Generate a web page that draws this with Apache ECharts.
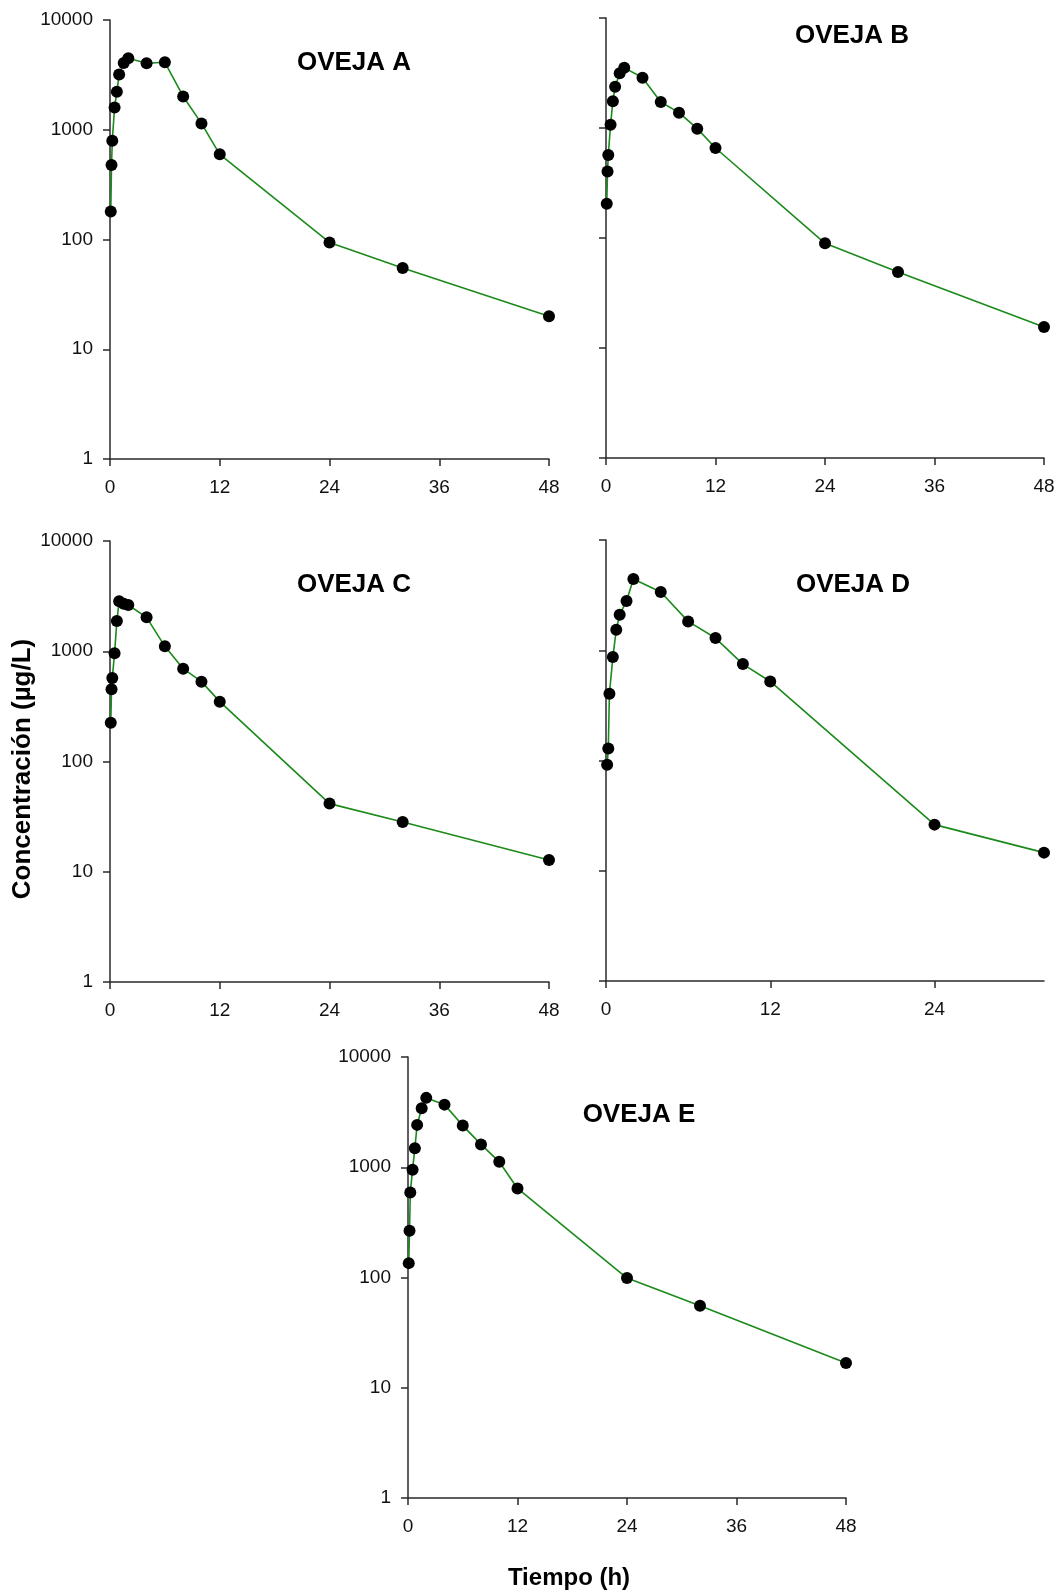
<!DOCTYPE html>
<html>
<head>
<meta charset="utf-8">
<script src="https://cdn.jsdelivr.net/npm/echarts@6/dist/echarts.min.js"></script>
<style>
  html, body { margin: 0; padding: 0; background: #fff; }
  #chart { width: 1060px; height: 1596px; }
</style>
</head>
<body>
<div id="chart"></div>
<script>
// ---- data ----
const times = [0.083, 0.167, 0.25, 0.5, 0.75, 1, 1.5, 2, 4, 6, 8, 10, 12, 24, 32, 48];
const timesD = [0.083, 0.167, 0.25, 0.5, 0.75, 1, 1.5, 2, 4, 6, 8, 10, 12, 24, 32];
const ovejaA = [180, 477, 794, 1596, 2215, 3185, 4066, 4485, 4040, 4120, 2010, 1142, 597, 94, 55, 20];
const ovejaB = [205, 403, 568, 1072, 1748, 2376, 3140, 3535, 2868, 1723, 1378, 986, 658, 89.5, 49, 15.5];
const ovejaC = [225, 452, 572, 957, 1881, 2836, 2700, 2627, 2031, 1108, 695, 530, 349, 41.5, 28.3, 12.8];
const ovejaD = [91.4, 128.5, 403, 867, 1535, 2100, 2795, 4425, 3373, 1827, 1290, 749, 521, 26.2, 14.6];
const ovejaE = [135, 265, 591, 951, 1485, 2423, 3433, 4259, 3698, 2387, 1611, 1120, 642, 98.9, 55.4, 16.8];
const titles = ['OVEJA A', 'OVEJA B', 'OVEJA C', 'OVEJA D', 'OVEJA E'];
const xTicks = [0, 12, 24, 36, 48];
const xTicksD = [0, 12, 24];
const yTicks = [1, 10, 100, 1000, 10000];
const yLabel = 'Concentración (µg/L)';
const xLabel = 'Tiempo (h)';

// ---- layout ----
const FONT = 'Liberation Sans, Arial, Helvetica, sans-serif';
const grids = [
  { left: 110, top: 20, width: 439, height: 439 },
  { left: 606, top: 18, width: 438, height: 440 },
  { left: 110, top: 541, width: 439, height: 441 },
  { left: 606, top: 540, width: 438, height: 441 },
  { left: 408, top: 1057, width: 438, height: 441 }
];
const titlePos = [[354, 63], [852, 36], [354, 585], [853, 585], [639, 1115]];
const panels = [
  { t: times, v: ovejaA, xmax: 48, xt: xTicks },
  { t: times, v: ovejaB, xmax: 48, xt: xTicks },
  { t: times, v: ovejaC, xmax: 48, xt: xTicks },
  { t: timesD, v: ovejaD, xmax: 32, xt: xTicksD },
  { t: times, v: ovejaE, xmax: 48, xt: xTicks }
];

const axisColor = '#2a2a2a';
const lineStyle = { color: axisColor, width: 1.5 };

const option = {
  animation: false,
  backgroundColor: '#fff',
  grid: grids.map(g => Object.assign({ containLabel: false }, g)),
  xAxis: panels.map((p, i) => ({
    gridIndex: i,
    type: 'value',
    min: 0,
    max: p.xmax,
    interval: 12,
    axisLine: { show: true, onZero: false, lineStyle: lineStyle },
    axisTick: { show: true, length: 7, lineStyle: lineStyle, customValues: p.xt },
    axisLabel: {
      show: true, margin: 19, color: '#111', fontSize: 19, fontFamily: FONT,
      customValues: p.xt,
      formatter: v => String(v)
    },
    splitLine: { show: false }
  })),
  yAxis: panels.map((p, i) => ({
    gridIndex: i,
    type: 'log',
    logBase: 10,
    min: 1,
    max: 10000,
    axisLine: { show: true, onZero: false, lineStyle: lineStyle },
    axisTick: { show: true, length: 7, lineStyle: lineStyle, customValues: yTicks },
    axisLabel: {
      show: i % 2 === 0 || i === 4,
      margin: 17, color: '#111', fontSize: 19, fontFamily: FONT,
      customValues: yTicks,
      formatter: v => String(Math.round(v))
    },
    splitLine: { show: false }
  })),
  series: panels.map((p, i) => ({
    type: 'line',
    xAxisIndex: i,
    yAxisIndex: i,
    data: p.t.map((t, k) => [t, p.v[k]]),
    symbol: 'circle',
    symbolSize: 12,
    showAllSymbol: true,
    lineStyle: { color: '#1b8a1b', width: 1.6 },
    itemStyle: { color: '#000' },
    z: 3
  })),
  graphic: [
    ...titles.map((t, i) => ({
      type: 'text',
      x: titlePos[i][0],
      y: titlePos[i][1],
      style: {
        text: t, fill: '#000', font: 'bold 26px ' + FONT,
        textAlign: 'center', textVerticalAlign: 'middle'
      }
    })),
    {
      type: 'text',
      x: 23, y: 769,
      rotation: Math.PI / 2,
      style: {
        text: yLabel, fill: '#000', font: 'bold 26px ' + FONT,
        textAlign: 'center', textVerticalAlign: 'middle'
      }
    },
    {
      type: 'text',
      x: 569, y: 1578,
      style: {
        text: xLabel, fill: '#000', font: 'bold 24px ' + FONT,
        textAlign: 'center', textVerticalAlign: 'middle'
      }
    }
  ]
};

const chart = echarts.init(document.getElementById('chart'), null, { renderer: 'canvas', width: 1060, height: 1596 });
chart.setOption(option);
</script>
</body>
</html>
